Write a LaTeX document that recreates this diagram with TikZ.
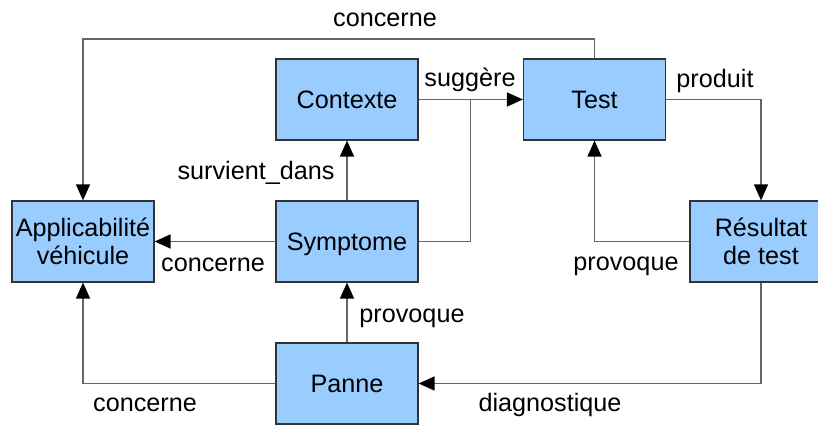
\documentclass[tikz,border=0pt]{standalone}
\usepackage{fontspec}
\setmainfont{Liberation Sans}
\usetikzlibrary{arrows.meta}
\definecolor{boxfill}{HTML}{99CCFF}
\definecolor{boxdraw}{HTML}{333333}
\definecolor{linecol}{HTML}{666666}
\begin{document}
\begin{tikzpicture}[x=0.5pt,y=-0.5pt,
  box/.style={draw=boxdraw,fill=boxfill,line width=0.6pt,minimum width=71pt,minimum height=40.5pt,inner sep=0pt,align=center,font=\fontsize{12.6}{14}\selectfont},
  conn/.style={draw=linecol,line width=0.75pt},
  arr/.style={conn,-{Triangle[length=8pt,width=7pt,fill=black,color=black]}},
  lbl/.style={anchor=base,inner sep=0pt,font=\fontsize{12.6}{14}\selectfont}]
\useasboundingbox (0,0) rectangle (818,426);
\clip (0,0) rectangle (818,426);
\node[box] (ctx) at (347,99.5) {Contexte};
\node[box] (test) at (594.5,99.5) {Test};
\node[box] (app) at (83,241.5) {Applicabilité\\véhicule};
\node[box,text height=9.2pt,text depth=0.3pt] (sym) at (347,241.5) {Symptome};
\node[box] (panne) at (347,383.5) {Panne};
\node[box] (res) at (761,241.5) {Résultat\\de test};
\coordinate (t1) at (594.5,39);
\coordinate (j) at (470.5,99.5);
\draw[arr] (test.north) -- (t1) -| (app.north);
\draw[arr] (ctx.east) -- (test.west);
\draw[conn] (sym.east) -| (j);
\draw[arr] (test.east) -| (res.north);
\draw[arr] (res.west) -| (test.south);
\draw[arr] (res.south) |- (panne.east);
\draw[arr] (panne.west) -| (app.south);
\draw[arr] (sym.west) -- (app.east);
\draw[arr] (sym.north) -- (ctx.south);
\draw[arr] (panne.north) -- (sym.south);
\node[lbl] (l1) at (385,27) {concerne};
\node[lbl] (l2) at (470,87) {suggère};
\node[lbl] (l3) at (715,88) {produit};
\node[lbl] (l4) at (256,180) {survient\_dans};
\node[lbl] (l5) at (213,272) {concerne};
\node[lbl] (l6) at (412,323) {provoque};
\node[lbl] (l7) at (626,271) {provoque};
\node[lbl] (l8) at (550,412) {diagnostique};
\node[lbl] (l9) at (145,412) {concerne};
\end{tikzpicture}
\end{document}
